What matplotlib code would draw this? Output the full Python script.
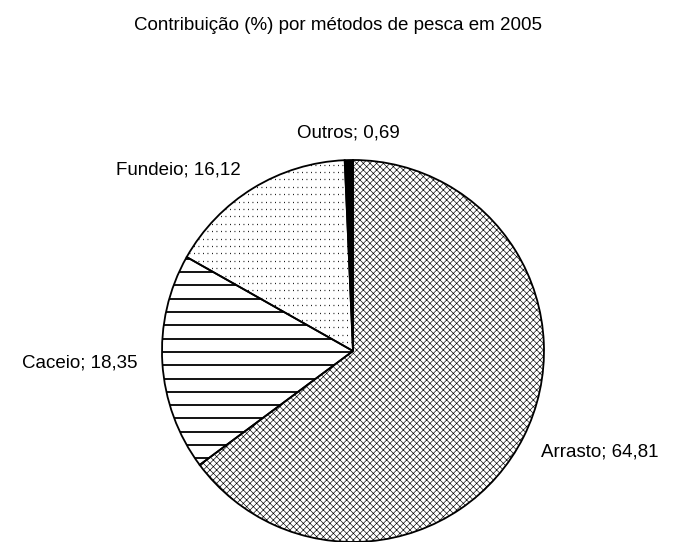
import numpy as np
import matplotlib
matplotlib.use("Agg")
import matplotlib.pyplot as plt

plt.rcParams['font.family'] = ['Liberation Sans', 'DejaVu Sans']
plt.rcParams['hatch.linewidth'] = 0.45

# data (clockwise from 12 o'clock)
metodos = ["Arrasto", "Caceio", "Fundeio", "Outros"]
valores = [64.81, 18.35, 16.12, 0.69]
titulo = "Contribuição (%) por métodos de pesca em 2005"

# label placement (data units, pie radius = 1)
label_xy = [(0.984, -0.53), (-1.126, -0.063), (-0.59, 0.948), (-0.026, 1.141)]
label_ha = ["left", "right", "right", "center"]

fig = plt.figure(figsize=(6.73, 5.42), dpi=100)
ax = fig.add_axes([0.2407, 0.0, 0.5676, 0.7048])

wedges, _ = ax.pie(valores, startangle=90, counterclock=False, radius=1,
                   wedgeprops=dict(edgecolor="black", linewidth=1.3))
for w in wedges:
    w.set_clip_on(False)

# white backgrounds underneath the hatching
for w in wedges[:3]:
    bg = plt.Polygon(w.get_path().vertices, closed=True, facecolor="white",
                     edgecolor="none", zorder=0)
    ax.add_patch(bg)

# Arrasto: dense cross pattern
wedges[0].set_facecolor("none")
wedges[0].set_hatch("xxxxx")

# Caceio: solid horizontal lines
wedges[1].set_facecolor("none")
for y in np.arange(-1.0, 1.0, 13.3 / 191):
    ln, = ax.plot([-1, 1], [y + 0.02, y + 0.02], color="black", lw=1.3)
    ln.set_clip_path(wedges[1])

# Fundeio: dotted horizontal lines
wedges[2].set_facecolor("none")
for y in np.arange(-1.0, 1.0, 7.4 / 191):
    ln, = ax.plot([-1, 1], [y, y], color="black", lw=0.9, linestyle=(0, (0.7, 2.9)))
    ln.set_clip_path(wedges[2])

# Outros: solid black
wedges[3].set_facecolor("black")

for w in wedges:
    w.set_zorder(3)

for name, v, (x, y), ha in zip(metodos, valores, label_xy, label_ha):
    ax.text(x, y, f"{name}; {v:.2f}".replace(".", ","), ha=ha, va="center",
            fontsize=13.5)

ax.set_xlim(-1, 1)
ax.set_ylim(-1, 1)
ax.set_aspect("equal")
ax.axis("off")

fig.text(0.502, 0.953, titulo, ha="center", va="center", fontsize=13.5)

fig.savefig("out.png", dpi=100)
